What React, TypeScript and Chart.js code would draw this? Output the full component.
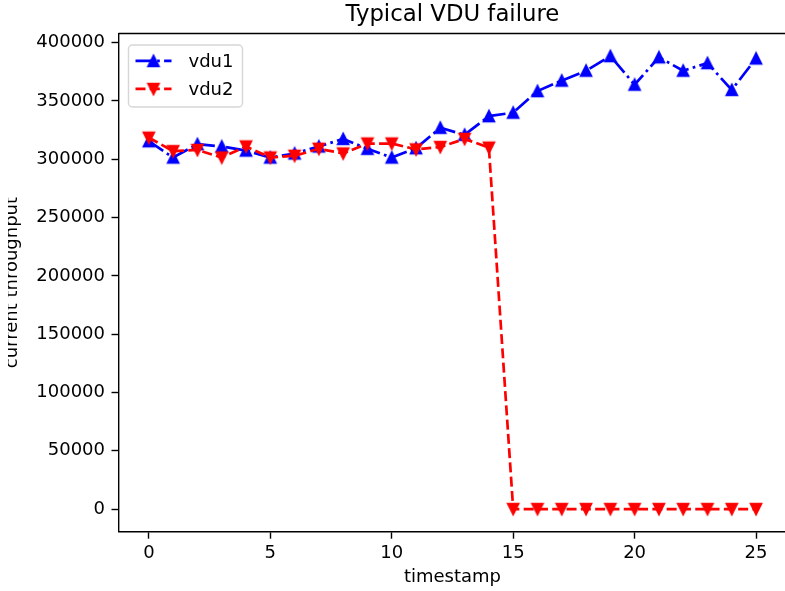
import { useEffect, useRef } from "react";
import { Chart, registerables } from "chart.js";

Chart.register(...registerables);

const chartTitle = "Typical VDU failure";
const xTitle = "timestamp";
const yTitle = "current throughput";

const timestamps = [0, 1, 2, 3, 4, 5, 6, 7, 8, 9, 10, 11, 12, 13, 14, 15, 16, 17, 18, 19, 20, 21, 22, 23, 24, 25];

const vdu1 = [
  315500, 301500, 313000, 311000, 307500, 301500, 305000, 311000, 317500, 309000,
  301500, 309500, 327000, 321000, 337000, 340000, 358500, 367500, 376000, 388500,
  364000, 387500, 376000, 382500, 359500, 386500,
];

const vdu2 = [
  318500, 307000, 308000, 301500, 311000, 301500, 303000, 309000, 305000, 313500,
  313500, 308500, 310500, 317500, 310000, 0, 0, 0, 0, 0,
  0, 0, 0, 0, 0, 0,
];

const seriesLabels = ["vdu1", "vdu2"];
const xTicks = [0, 5, 10, 15, 20, 25];
const yTicks = [0, 50000, 100000, 150000, 200000, 250000, 300000, 350000, 400000];

const FONT = "'DejaVu Sans', sans-serif";

function makeTriangle(color: string, down: boolean): HTMLCanvasElement {
  const c = document.createElement("canvas");
  c.width = 16;
  c.height = 16;
  const g = c.getContext("2d")!;
  const cx = 8, cy = 8, h = 5.4;
  g.beginPath();
  if (!down) {
    g.moveTo(cx, cy - h);
    g.lineTo(cx - h, cy + h);
    g.lineTo(cx + h, cy + h);
  } else {
    g.moveTo(cx, cy + h);
    g.lineTo(cx - h, cy - h);
    g.lineTo(cx + h, cy - h);
  }
  g.closePath();
  g.fillStyle = color;
  g.fill();
  g.lineWidth = 1.8;
  g.lineJoin = "miter";
  g.strokeStyle = color;
  g.stroke();
  return c;
}

export default function App() {
  const ref = useRef<HTMLCanvasElement | null>(null);

  useEffect(() => {
    if (!ref.current) return;
    const upTri = makeTriangle("#0000ff", false);
    const downTri = makeTriangle("#ff0000", true);

    const allVals = [...vdu1, ...vdu2];
    const dmin = Math.min(...allVals);
    const dmax = Math.max(...allVals);
    const ymargin = 0.05 * (dmax - dmin);
    const xmin = timestamps[0];
    const xmax = timestamps[timestamps.length - 1];
    const xmargin = 0.05 * (xmax - xmin);

    const framePlugin = {
      id: "frame",
      afterDatasetsDraw(chart: any) {
        const { ctx, chartArea } = chart;
        ctx.save();
        ctx.strokeStyle = "#000";
        ctx.lineWidth = 1.4;
        ctx.beginPath();
        ctx.moveTo(chartArea.left, chartArea.top);
        ctx.lineTo(chartArea.right, chartArea.top);
        ctx.lineTo(chartArea.right, chartArea.bottom);
        ctx.stroke();
        ctx.restore();
      },
    };

    // the reference figure is cropped just through the y-axis label
    const cropPlugin = {
      id: "leftCrop",
      afterDraw(chart: any) {
        const { ctx, chartArea } = chart;
        ctx.save();
        ctx.fillStyle = "#fff";
        ctx.fillRect(0, chartArea.top, 8, chartArea.bottom - chartArea.top);
        ctx.restore();
      },
    };

    const legendPlugin = {
      id: "mplLegend",
      afterDraw(chart: any) {
        const { ctx, chartArea } = chart;
        const x0 = chartArea.left + 10;
        const y0 = chartArea.top + 11.5;
        const w = 114;
        const h = 62;
        const r = 4;
        ctx.save();
        ctx.beginPath();
        ctx.moveTo(x0 + r, y0);
        ctx.arcTo(x0 + w, y0, x0 + w, y0 + h, r);
        ctx.arcTo(x0 + w, y0 + h, x0, y0 + h, r);
        ctx.arcTo(x0, y0 + h, x0, y0, r);
        ctx.arcTo(x0, y0, x0 + w, y0, r);
        ctx.closePath();
        ctx.fillStyle = "rgba(255,255,255,0.8)";
        ctx.fill();
        ctx.strokeStyle = "rgba(204,204,204,0.8)";
        ctx.lineWidth = 1.4;
        ctx.stroke();

        chart.data.datasets.forEach((ds: any, i: number) => {
          const yy = y0 + 16 + i * 28;
          const lx0 = x0 + 7;
          const lx1 = x0 + 43;
          ctx.save();
          ctx.strokeStyle = ds.borderColor;
          ctx.lineWidth = ds.borderWidth;
          ctx.setLineDash(ds.borderDash || []);
          ctx.beginPath();
          ctx.moveTo(lx0, yy);
          ctx.lineTo(lx1, yy);
          ctx.stroke();
          ctx.restore();
          const img = ds.pointStyle as HTMLCanvasElement;
          ctx.drawImage(img, (lx0 + lx1) / 2 - img.width / 2, yy - img.height / 2);
          ctx.fillStyle = "#000";
          ctx.font = `18px ${FONT}`;
          ctx.textBaseline = "middle";
          ctx.textAlign = "left";
          ctx.fillText(ds.label, x0 + 60, yy + 1);
        });
        ctx.restore();
      },
    };

    const chart = new Chart(ref.current, {
      type: "line",
      data: {
        datasets: [
          {
            label: seriesLabels[0],
            data: timestamps.map((t, i) => ({ x: t, y: vdu1[i] })),
            borderColor: "#0000ff",
            backgroundColor: "#0000ff",
            borderWidth: 2.7,
            borderDash: [17.3, 4.3, 2.7, 4.3],
            pointStyle: upTri as any,
            pointRadius: 6,
            tension: 0,
            fill: false,
            order: 2,
          },
          {
            label: seriesLabels[1],
            data: timestamps.map((t, i) => ({ x: t, y: vdu2[i] })),
            borderColor: "#ff0000",
            backgroundColor: "#ff0000",
            borderWidth: 2.7,
            borderDash: [10, 4.3],
            pointStyle: downTri as any,
            pointRadius: 6,
            tension: 0,
            fill: false,
            order: 1,
          },
        ],
      },
      options: {
        animation: false,
        responsive: false,
        devicePixelRatio: 1,
        layout: { padding: { left: 0, right: 13.6, top: 0, bottom: 0 } },
        plugins: {
          legend: { display: false },
          tooltip: { enabled: false },
          title: {
            display: true,
            fullSize: false,
            text: chartTitle,
            color: "#000",
            font: { family: FONT, size: 22.8, weight: "normal" as any, lineHeight: 1.2 },
            padding: { top: 1.1, bottom: 5.0 },
          },
        },
        scales: {
          x: {
            type: "linear",
            min: xmin - xmargin,
            max: xmax + xmargin,
            afterBuildTicks: (s: any) => {
              s.ticks = xTicks.map((v) => ({ value: v }));
            },
            afterFit: (s: any) => {
              s.height = 59.3;
            },
            grid: {
              drawOnChartArea: false,
              drawTicks: true,
              tickLength: 7,
              tickWidth: 1.4,
              tickColor: "#000",
              color: "#000",
            },
            border: { display: true, color: "#000", width: 1.4 },
            ticks: {
              color: "#000",
              font: { family: FONT, size: 18 },
              padding: 4,
              maxRotation: 0,
              autoSkip: false,
              callback: (v: any) => String(v),
            },
            title: {
              display: true,
              text: xTitle,
              color: "#000",
              font: { family: FONT, size: 18 },
              padding: { top: 0, bottom: 2.4 },
            },
          },
          y: {
            type: "linear",
            min: dmin - ymargin,
            max: dmax + ymargin,
            afterBuildTicks: (s: any) => {
              s.ticks = yTicks.map((v) => ({ value: v }));
            },
            afterFit: (s: any) => {
              s.width = 118.5;
            },
            grid: {
              drawOnChartArea: false,
              drawTicks: true,
              tickLength: 7,
              tickWidth: 1.4,
              tickColor: "#000",
              color: "#000",
            },
            border: { display: true, color: "#000", width: 1.4 },
            ticks: {
              color: "#000",
              font: { family: FONT, size: 18 },
              padding: 6.5,
              autoSkip: false,
              callback: (v: any) => String(v),
            },
            title: {
              display: true,
              text: yTitle,
              color: "#000",
              font: { family: FONT, size: 18 },
              padding: { top: 1.3, bottom: 0 },
            },
          },
        },
      },
      plugins: [framePlugin, legendPlugin, cropPlugin],
    });

    return () => chart.destroy();
  }, []);

  return (
    <div
      style={{
        position: "fixed",
        left: 0,
        top: 0,
        width: 785,
        height: 591,
        overflow: "hidden",
        background: "#fff",
      }}
    >
      <canvas ref={ref} width={800} height={591} style={{ width: 800, height: 591, display: "block" }} />
    </div>
  );
}
